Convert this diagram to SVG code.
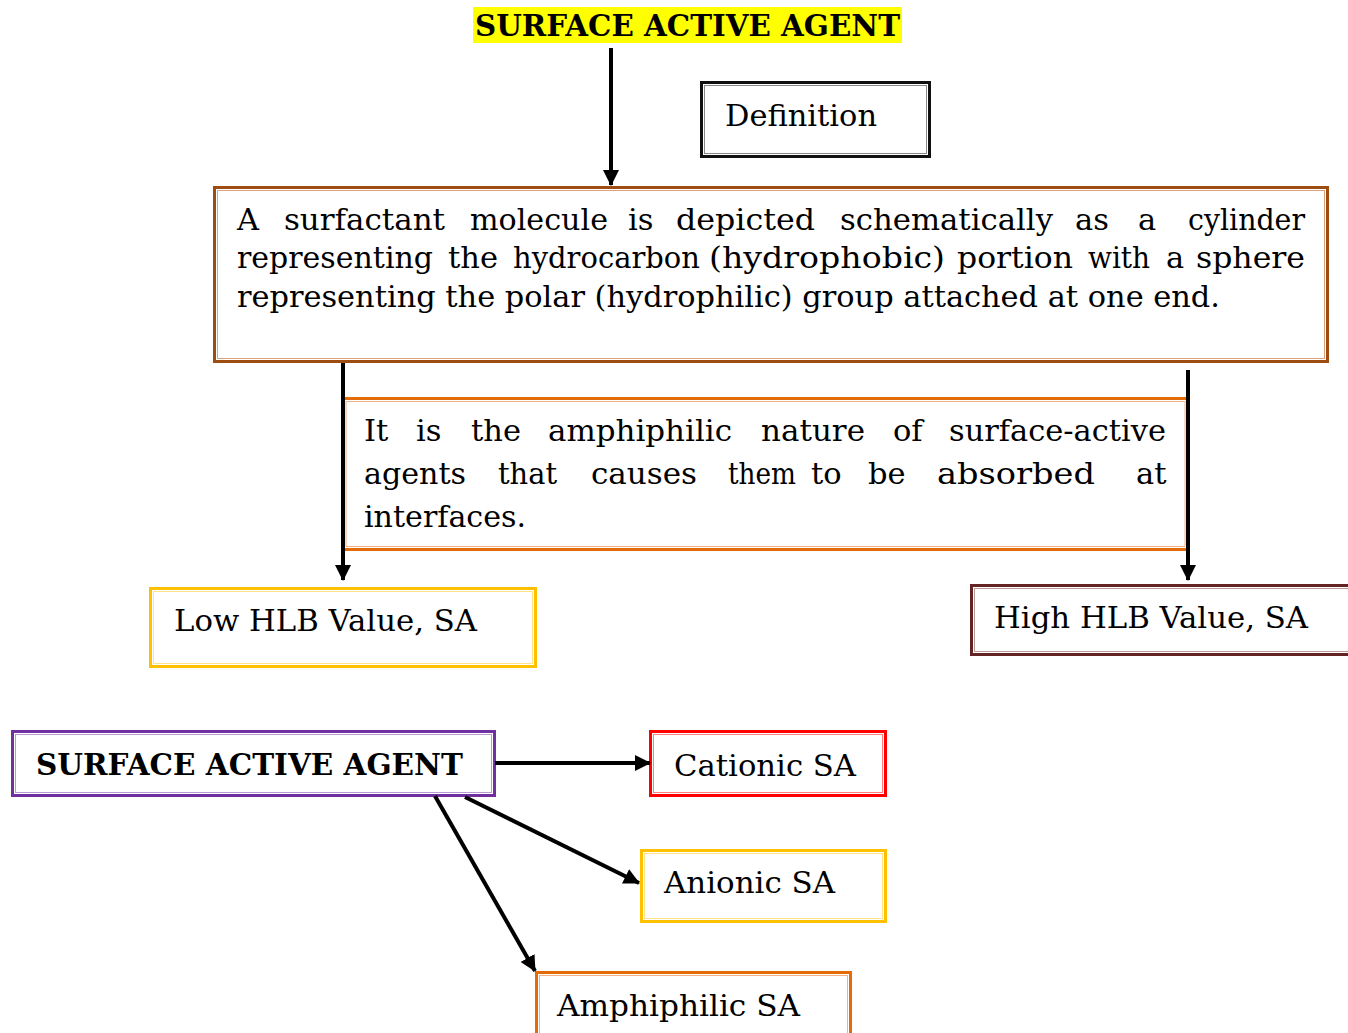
<svg xmlns="http://www.w3.org/2000/svg" width="1348" height="1033" viewBox="0 0 1348 1033">
<defs>
<marker id="ah" markerUnits="userSpaceOnUse" markerWidth="16" markerHeight="16" viewBox="0 0 16 16" refX="15" refY="8" orient="auto">
<path d="M0,0 L16,8 L0,16 Z" fill="#000"/>
</marker>
</defs>
<style>
.t{font-family:"DejaVu Serif","Liberation Serif",serif;font-size:30.5px;fill:#000}
.b{font-family:"DejaVu Serif","Liberation Serif",serif;font-size:29px;font-weight:bold;fill:#000}
.o{fill:#fff;stroke-width:3}
.i{fill:none;stroke-width:1}
.c{stroke:#000;stroke-width:4;fill:none}
</style>
<rect width="1348" height="1033" fill="#fff"/>

<g id="title">
<rect x="473" y="7" width="429" height="36" fill="#ffff00"/>
<text class="b" x="475" y="36" textLength="425" lengthAdjust="spacingAndGlyphs">SURFACE ACTIVE AGENT</text>
</g>

<g id="definition">
<rect class="o" x="701.5" y="82.5" width="228" height="74" stroke="#111"/>
<rect class="i" x="704.5" y="85.5" width="222" height="68" stroke="#888"/>
<text class="t" x="725" y="126" textLength="152" lengthAdjust="spacingAndGlyphs">Definition</text>
</g>

<g id="surfactant-def">
<rect class="o" x="214.5" y="187.5" width="1113" height="174" stroke="#9e4d12"/>
<rect class="i" x="217.5" y="190.5" width="1107" height="168" stroke="#d9a27c"/>
<text class="t" x="237" y="230">A</text>
<text class="t" x="284" y="230" textLength="161" lengthAdjust="spacingAndGlyphs">surfactant</text>
<text class="t" x="470" y="230" textLength="138" lengthAdjust="spacingAndGlyphs">molecule</text>
<text class="t" x="628" y="230">is</text>
<text class="t" x="676" y="230" textLength="139" lengthAdjust="spacingAndGlyphs">depicted</text>
<text class="t" x="840" y="230" textLength="213" lengthAdjust="spacingAndGlyphs">schematically</text>
<text class="t" x="1075" y="230">as</text>
<text class="t" x="1138" y="230">a</text>
<text class="t" x="1188" y="230" textLength="117" lengthAdjust="spacingAndGlyphs">cylinder</text>
<text class="t" x="237" y="268" textLength="196" lengthAdjust="spacingAndGlyphs">representing</text>
<text class="t" x="448" y="268">the</text>
<text class="t" x="513" y="268" textLength="187" lengthAdjust="spacingAndGlyphs">hydrocarbon</text>
<text class="t" x="709" y="268" textLength="236" lengthAdjust="spacingAndGlyphs">(hydrophobic)</text>
<text class="t" x="957" y="268" textLength="116" lengthAdjust="spacingAndGlyphs">portion</text>
<text class="t" x="1088" y="268" textLength="62" lengthAdjust="spacingAndGlyphs">with</text>
<text class="t" x="1166" y="268">a</text>
<text class="t" x="1196" y="268" textLength="109" lengthAdjust="spacingAndGlyphs">sphere</text>
<text class="t" x="237" y="307" textLength="983" lengthAdjust="spacingAndGlyphs">representing the polar (hydrophilic) group attached at one end.</text>
</g>

<g id="amphiphilic-nature">
<rect class="o" x="343" y="398.5" width="845" height="151" stroke="#e36c09"/>
<rect class="i" x="346" y="401.5" width="839" height="145" stroke="#f4b183"/>
<text class="t" x="364" y="441">It</text>
<text class="t" x="416" y="441">is</text>
<text class="t" x="471" y="441">the</text>
<text class="t" x="548" y="441" textLength="184" lengthAdjust="spacingAndGlyphs">amphiphilic</text>
<text class="t" x="761" y="441" textLength="104" lengthAdjust="spacingAndGlyphs">nature</text>
<text class="t" x="893" y="441">of</text>
<text class="t" x="949" y="441" textLength="217" lengthAdjust="spacingAndGlyphs">surface-active</text>
<text class="t" x="364" y="484" textLength="102" lengthAdjust="spacingAndGlyphs">agents</text>
<text class="t" x="498" y="484" textLength="59" lengthAdjust="spacingAndGlyphs">that</text>
<text class="t" x="591" y="484" textLength="106" lengthAdjust="spacingAndGlyphs">causes</text>
<text class="t" x="728" y="484" textLength="68" lengthAdjust="spacingAndGlyphs">them</text>
<text class="t" x="811" y="484">to</text>
<text class="t" x="868" y="484">be</text>
<text class="t" x="937" y="484" textLength="158" lengthAdjust="spacingAndGlyphs">absorbed</text>
<text class="t" x="1136" y="484">at</text>
<text class="t" x="364" y="527" textLength="162" lengthAdjust="spacingAndGlyphs">interfaces.</text>
</g>

<g id="low-hlb">
<rect class="o" x="150.5" y="588.5" width="385" height="78" stroke="#ffc000"/>
<rect class="i" x="153.5" y="591.5" width="379" height="72" stroke="#ffe28a"/>
<text class="t" x="174" y="631" textLength="303" lengthAdjust="spacingAndGlyphs">Low HLB Value, SA</text>
</g>

<g id="high-hlb">
<rect class="o" x="971.5" y="585.5" width="385" height="69" stroke="#632423"/>
<rect class="i" x="974.5" y="588.5" width="379" height="63" stroke="#b89a99"/>
<text class="t" x="994" y="628" textLength="314" lengthAdjust="spacingAndGlyphs">High HLB Value, SA</text>
</g>

<g id="sa">
<rect class="o" x="12.5" y="731.5" width="482" height="64" stroke="#7030a0"/>
<rect class="i" x="15.5" y="734.5" width="476" height="58" stroke="#b99ad3"/>
<text class="b" x="36" y="775" textLength="427" lengthAdjust="spacingAndGlyphs">SURFACE ACTIVE AGENT</text>
</g>

<g id="cationic">
<rect class="o" x="650.5" y="731.5" width="235" height="64" stroke="#ff0000"/>
<rect class="i" x="653.5" y="734.5" width="229" height="58" stroke="#ff8080"/>
<text class="t" x="674" y="776" textLength="182" lengthAdjust="spacingAndGlyphs">Cationic SA</text>
</g>

<g id="anionic">
<rect class="o" x="641.5" y="850.5" width="244" height="71" stroke="#ffc000"/>
<rect class="i" x="644.5" y="853.5" width="238" height="65" stroke="#ffe28a"/>
<text class="t" x="664" y="893" textLength="171" lengthAdjust="spacingAndGlyphs">Anionic SA</text>
</g>

<g id="amphiphilic">
<rect class="o" x="536.5" y="972.5" width="314" height="80" stroke="#e36c09"/>
<rect class="i" x="539.5" y="975.5" width="308" height="74" stroke="#f4b183"/>
<text class="t" x="557" y="1016" textLength="243" lengthAdjust="spacingAndGlyphs">Amphiphilic SA</text>
</g>

<g id="connectors">
<line class="c" x1="611" y1="48" x2="611" y2="185" marker-end="url(#ah)"/>
<line class="c" x1="343" y1="363" x2="343" y2="580" marker-end="url(#ah)"/>
<line class="c" x1="1188" y1="370" x2="1188" y2="580" marker-end="url(#ah)"/>
<line class="c" x1="495" y1="763" x2="650" y2="763" marker-end="url(#ah)"/>
<line class="c" x1="465" y1="797" x2="639" y2="883" marker-end="url(#ah)"/>
<line class="c" x1="435" y1="796" x2="535" y2="971" marker-end="url(#ah)"/>
</g>
</svg>
